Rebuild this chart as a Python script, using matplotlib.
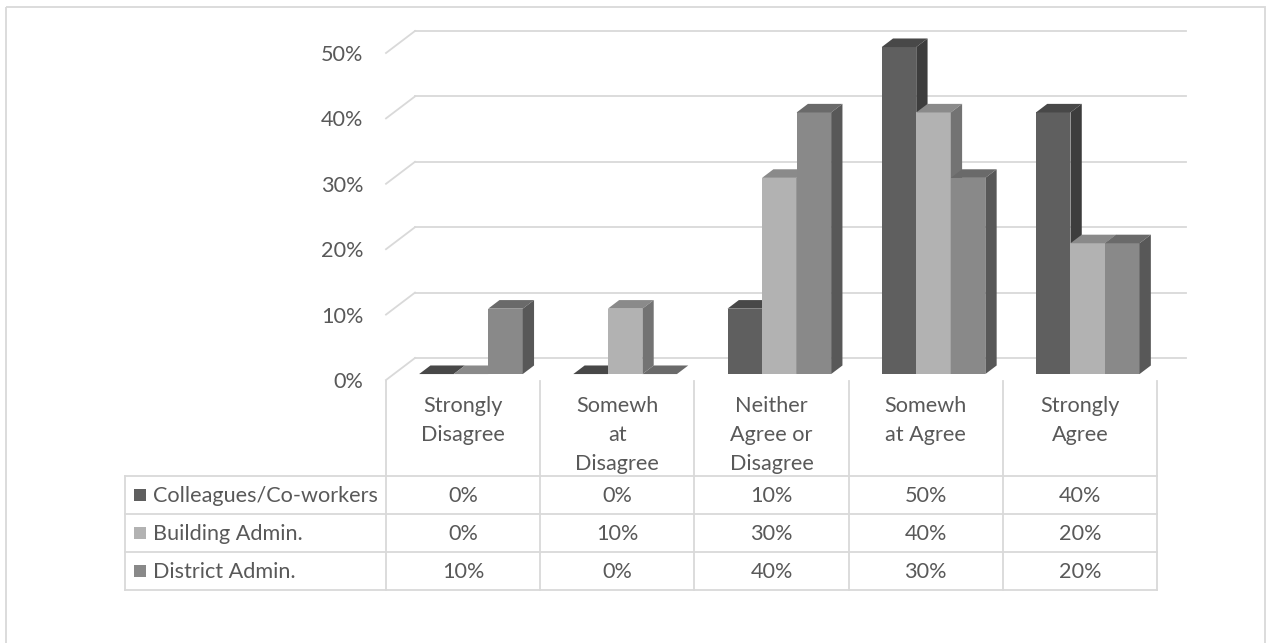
import matplotlib
matplotlib.use("Agg")
import matplotlib.pyplot as plt
from matplotlib import transforms
from matplotlib.patches import Polygon, Rectangle
from matplotlib.lines import Line2D

# ---- data -------------------------------------------------------------
categories = ["Strongly\nDisagree", "Somewh\nat\nDisagree", "Neither\nAgree or\nDisagree",
              "Somewh\nat Agree", "Strongly\nAgree"]
series_names = ["Colleagues/Co-workers", "Building Admin.", "District Admin."]
colleagues = [0.00, 0.00, 0.10, 0.50, 0.40]
building = [0.00, 0.10, 0.30, 0.40, 0.20]
district = [0.10, 0.00, 0.40, 0.30, 0.20]
y_ticks = [0.0, 0.1, 0.2, 0.3, 0.4, 0.5]

series = [colleagues, building, district]

# ---- style ------------------------------------------------------------
front_colors = ["#5f5f5f", "#b2b2b2", "#898989"]
top_colors = ["#484848", "#8a8a8a", "#6a6a6a"]
side_colors = ["#3d3d3d", "#737373", "#585858"]
GRID = "#d9d9d9"
TXT = "#595959"
FS = 15.6
plt.rcParams['font.family'] = ['Lato', 'DejaVu Sans']

W, H = 1266, 643
fig = plt.figure(figsize=(W / 100, H / 100), dpi=100, facecolor="white")

# pixel overlay for the frame and the data table
ov = fig.add_axes([0, 0, 1, 1])
ov.set_xlim(0, W)
ov.set_ylim(H, 0)
ov.axis("off")
ov.patch.set_visible(False)

# front plane of the 3-D plot
x_left, x_right = 386, 1157
y_base, y_top = 380, 53
ax = fig.add_axes([x_left / W, (H - y_base) / H, (x_right - x_left) / W, (y_base - y_top) / H])
ax.set_xlim(0, len(categories))
ax.set_ylim(0, max(y_ticks))
ax.patch.set_visible(False)
for s in ax.spines.values():
    s.set_visible(False)
ax.set_xticks([])
ax.set_yticks(y_ticks)
ax.set_yticklabels([f"{round(t * 100)}%" for t in y_ticks])
ax.tick_params(axis="y", length=0, pad=16.5, labelsize=FS, labelcolor=TXT)

# oblique depth direction (display pixels, y up)
DX, DY = 29.0, 22.0
ident = transforms.IdentityTransform()


def proj(x, y, d):
    px, py = ax.transData.transform((x, y))
    return (px + d * DX, py + d * DY)


# walls: gridlines on back wall and side wall
for t in y_ticks:
    for a, b in [((0, t, 1), (len(categories), t, 1)), ((0, t, 0), (0, t, 1))]:
        p, q = proj(*a), proj(*b)
        ax.add_line(Line2D([p[0], q[0]], [p[1], q[1]], color=GRID, lw=1.3,
                           transform=ident, clip_on=False, zorder=1))

# 3-D columns
bar_w = 0.224
d0, d1 = 0.27, 0.66
front_tr = ax.transData + transforms.Affine2D().translate(d0 * DX, d0 * DY)
z = 3.0
for i in range(len(categories)):
    for k, vals in enumerate(series):
        v = vals[i]
        xl = i + 0.5 + (k - 1.5) * bar_w
        xr = xl + bar_w
        ax.bar(xl, v, width=bar_w, align="edge", color=front_colors[k],
               transform=front_tr, zorder=z, clip_on=False, linewidth=0)
        top = Polygon([proj(xl, v, d0), proj(xr, v, d0), proj(xr, v, d1), proj(xl, v, d1)],
                      closed=True, facecolor=top_colors[k], edgecolor="none",
                      transform=ident, clip_on=False, zorder=z + 0.001)
        side = Polygon([proj(xr, 0, d0), proj(xr, v, d0), proj(xr, v, d1), proj(xr, 0, d1)],
                       closed=True, facecolor=side_colors[k], edgecolor="none",
                       transform=ident, clip_on=False, zorder=z + 0.002)
        ax.add_patch(top)
        ax.add_patch(side)
        z += 0.01

# ---- data table -------------------------------------------------------
bt = transforms.blended_transform_factory(ax.transData, ov.transData)
tab_left = 125
tab_right = ax.transData.transform((len(categories), 0))[0]
row_lines = [476, 514, 552, 590]

for j in range(len(categories) + 1):
    ov.add_line(Line2D([j, j], [y_base + 1, row_lines[-1]], color=GRID, lw=1.3,
                       transform=bt, clip_on=False))
for yl in row_lines:
    ov.add_line(Line2D([tab_left, tab_right], [yl, yl], color=GRID, lw=1.3))
ov.add_line(Line2D([tab_left, tab_left], [row_lines[0], row_lines[-1]], color=GRID, lw=1.3))

# category headers
for i, cat in enumerate(categories):
    for l, line in enumerate(cat.split("\n")):
        ov.text(i + 0.5, 412 + 28.8 * l, line, transform=bt, ha="center", va="baseline",
                fontsize=FS, color=TXT)

# series rows
for k, (name, vals) in enumerate(zip(series_names, series)):
    rc = (row_lines[k] + row_lines[k + 1]) / 2
    ov.add_patch(Rectangle((134, rc - 6), 12, 12, facecolor=front_colors[k], edgecolor="none"))
    ov.text(153, rc + 7.5, name, ha="left", va="baseline", fontsize=FS, color=TXT)
    for i, v in enumerate(vals):
        ov.text(i + 0.5, rc + 7.5, f"{round(v * 100)}%", transform=bt, ha="center",
                va="baseline", fontsize=FS, color=TXT)

# chart frame
ov.add_patch(Rectangle((6, 7), 1258.5, 645, fill=False, edgecolor=GRID, lw=1.3, clip_on=False))

fig.savefig("out.png", dpi=100)
